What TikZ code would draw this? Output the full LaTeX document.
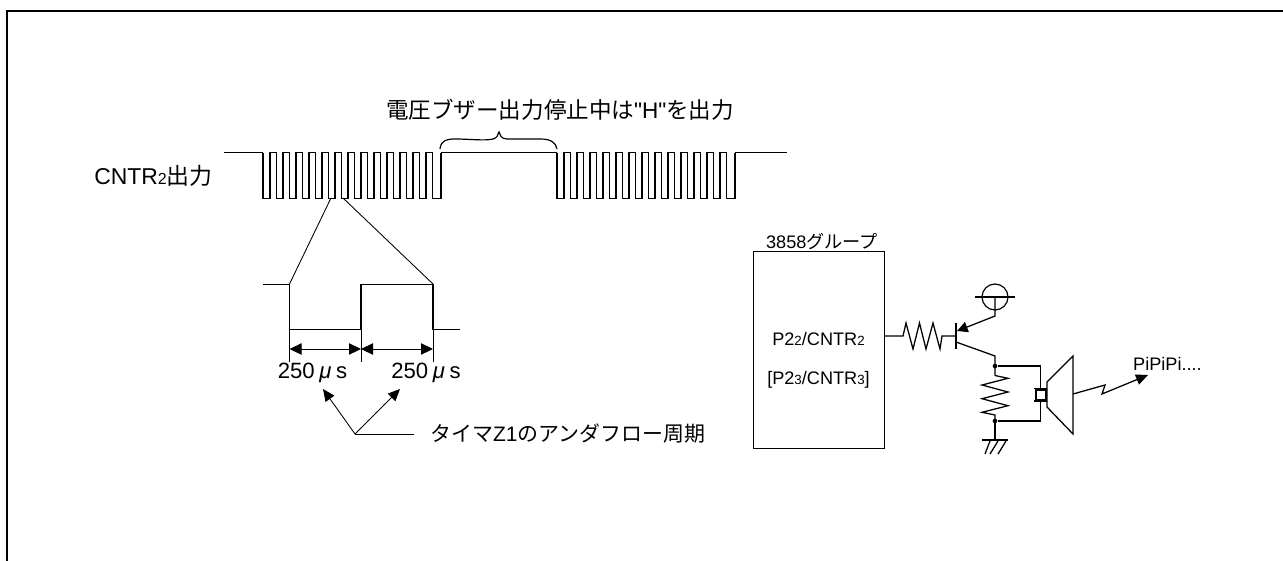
\documentclass[tikz,border=0pt]{standalone}
\usepackage{fontspec}
\setmainfont{Liberation Sans}
\newfontfamily\jp{Noto Sans CJK JP}
\newfontfamily\qfont{Liberation Sans}
\usetikzlibrary{arrows.meta}
\newcommand{\subtxt}[1]{{\fontsize{12pt}{13pt}\selectfont #1}}
\newcommand{\subsm}[1]{{\fontsize{10pt}{11pt}\selectfont #1}}
\tikzset{
  wire/.style={line width=0.95pt,line join=miter},
  thin wire/.style={line width=0.65pt},
  tip/.style={-{Triangle[length=9pt,width=8pt]},line width=0.65pt},
  dim/.style={{Triangle[length=9pt,width=8.5pt]}-{Triangle[length=9pt,width=8.5pt]},line width=0.65pt},
  title text/.style={inner sep=0pt,font=\fontsize{16.9pt}{18pt}\selectfont},
  lab/.style={inner sep=0pt,font=\fontsize{17.2pt}{18pt}\selectfont},
  val/.style={inner sep=0pt,font=\fontsize{16.6pt}{18pt}\selectfont},
  timer text/.style={inner sep=0pt,font=\fontsize{15.7pt}{18pt}\selectfont},
  small/.style={inner sep=0pt,font=\fontsize{13.6pt}{15pt}\selectfont},
  dot/.style={circle,fill=black,inner sep=0pt,minimum size=3.5pt}
}
\newcommand{\burst}[1]{%
  \draw[wire] (#1,152.5) -- (#1,198.5)
  \foreach \k in {0,...,12} {
    -- ({#1+7+13*\k},198.5) -- ({#1+7+13*\k},152.5) -- ({#1+13.5+13*\k},152.5) -- ({#1+13.5+13*\k},198.5)
  } -- ({#1+178},198.5) -- ({#1+178},152.5);
}
\begin{document}
\begin{tikzpicture}[x=0.75pt,y=-0.75pt]
\useasboundingbox (0,0) rectangle (1283,561);
% frame
\draw[line width=1.5pt] (7,561) -- (7,11) -- (1283,11);
% waveform
\draw[wire] (224,152.5) -- (263,152.5);
\burst{263}
\draw[wire] (441,152.5) -- (557,152.5);
\burst{557}
\draw[wire] (735,152.5) -- (787,152.5);
\node[lab,anchor=west] (cntr) at (94,176) {CNTR\subtxt{2}{\jp 出力}};
\node[title text,anchor=west] (title) at (386,110) {{\jp 電圧ブザー出力停止中は}{\qfont "H"}{\jp を出力}};
% brace
\draw[line width=0.9pt] (440,149) .. controls (441,140) and (447,139) .. (455,139)
  .. controls (470,139) and (485,141) .. (493,139) .. controls (497,138) and (498,135) .. (499,132)
  .. controls (500,135) and (501,139) .. (507,139) -- (540,139) .. controls (550,139) and (556,142) .. (557,149);
% zoom lines
\coordinate (za) at (331,198);
\coordinate (zb) at (343,198);
\draw[thin wire] (za) -- (289.5,284);
\draw[thin wire] (zb) -- (433,284);
% enlarged pulse
\draw[wire] (263,284.5) -- (289.5,284.5) -- (289.5,329.5) -- (361,329.5) -- (361,284.5) -- (433,284.5) -- (433,329.5) -- (460,329.5);
\draw[thin wire] (289.5,330) -- (289.5,362);
\draw[thin wire] (361,330) -- (361,362);
\draw[thin wire] (433,330) -- (433,362);
\draw[dim] (289.5,349) -- (361,349);
\draw[dim] (361,349) -- (433,349);
\node[val] (t1) at (312.5,373) {250\hspace{3.5pt}{\itshape μ}\hspace{3.5pt}s};
\node[val] (t2) at (426,373) {250\hspace{3.5pt}{\itshape μ}\hspace{3.5pt}s};
\coordinate (j) at (355,434);
\coordinate (a1) at (323,389);
\coordinate (a2) at (400,389);
\draw[tip] (j) -- (a1);
\draw[tip] (j) -- (a2);
\node[timer text,anchor=west] (timer) at (430,434) {{\jp タイマ}Z1{\jp のアンダフロー周期}};
\draw[thin wire] (j) -- (414,434);
% MCU
\node[draw,line width=0.9pt,minimum width=98.25pt,minimum height=147.75pt,inner sep=0pt,anchor=north west] (mcu) at (753,251) {};
\node[small] (group) at (822,242) {3858{\jp グループ}};
\node[small] (p22) at (818.5,339) {P2\subsm{2}/CNTR\subsm{2}};
\node[small] (p23) at (818.5,380) {[P2\subsm{3}/CNTR\subsm{3}]};
% transistor input
\draw[wire] (884,336) -- (903,336) -- (906,323) -- (913,349) -- (919.5,323) -- (926,349) -- (933,323) -- (940,349) -- (942,336) -- (956,336);
\draw[wire] (956,323) -- (956,349);
\draw[wire] (956,342) -- (995,356) -- (995,375.5);
% supply
\node[draw,circle,line width=0.9pt,minimum size=19.5pt,inner sep=0pt] (vcc) at (995,297) {};
\draw[wire] (975,297) -- (1015,297);
\draw[wire,-{Triangle[length=8pt,width=8pt]}] (995,297) -- (995,316) -- (957,331);
% load resistor
\node[dot] (n1) at (995,366) {};
\node[dot] (n2) at (995,421) {};
\draw[wire] (995,375.5) -- (1008,378.3) -- (982,385) -- (1008,392) -- (982,398.7) -- (1008,405.7) -- (982,412.3) -- (995,415) -- (995,421);
% ground
\draw[wire] (995,421) -- (995,440);
\draw[wire] (982,440) -- (1008,440);
\draw[wire] (1006,441) -- (998,454);
\draw[wire] (998,441) -- (990,454);
\draw[wire] (990,441) -- (985,454);
% piezo
\draw[wire] (n1) -- (1040.5,366) -- (1040.5,388);
\draw[wire] (1040.5,402) -- (1040.5,421) -- (n2);
\draw[wire] (1036,390) rectangle (1046,400);
\draw[wire] (1034,388.5) -- (1047,388.5);
\draw[wire] (1034,401) -- (1047,401);
% speaker
\draw[wire] (1047,382) -- (1073,356) -- (1073,434) -- (1047,407) -- cycle;
% sound
\draw[wire,-{Triangle[length=9pt,width=8pt]}] (1073,394) -- (1105,385) -- (1102,394) -- (1148,375);
\node[small] (pipi) at (1167.5,364) {PiPiPi....};
\end{tikzpicture}
\end{document}
